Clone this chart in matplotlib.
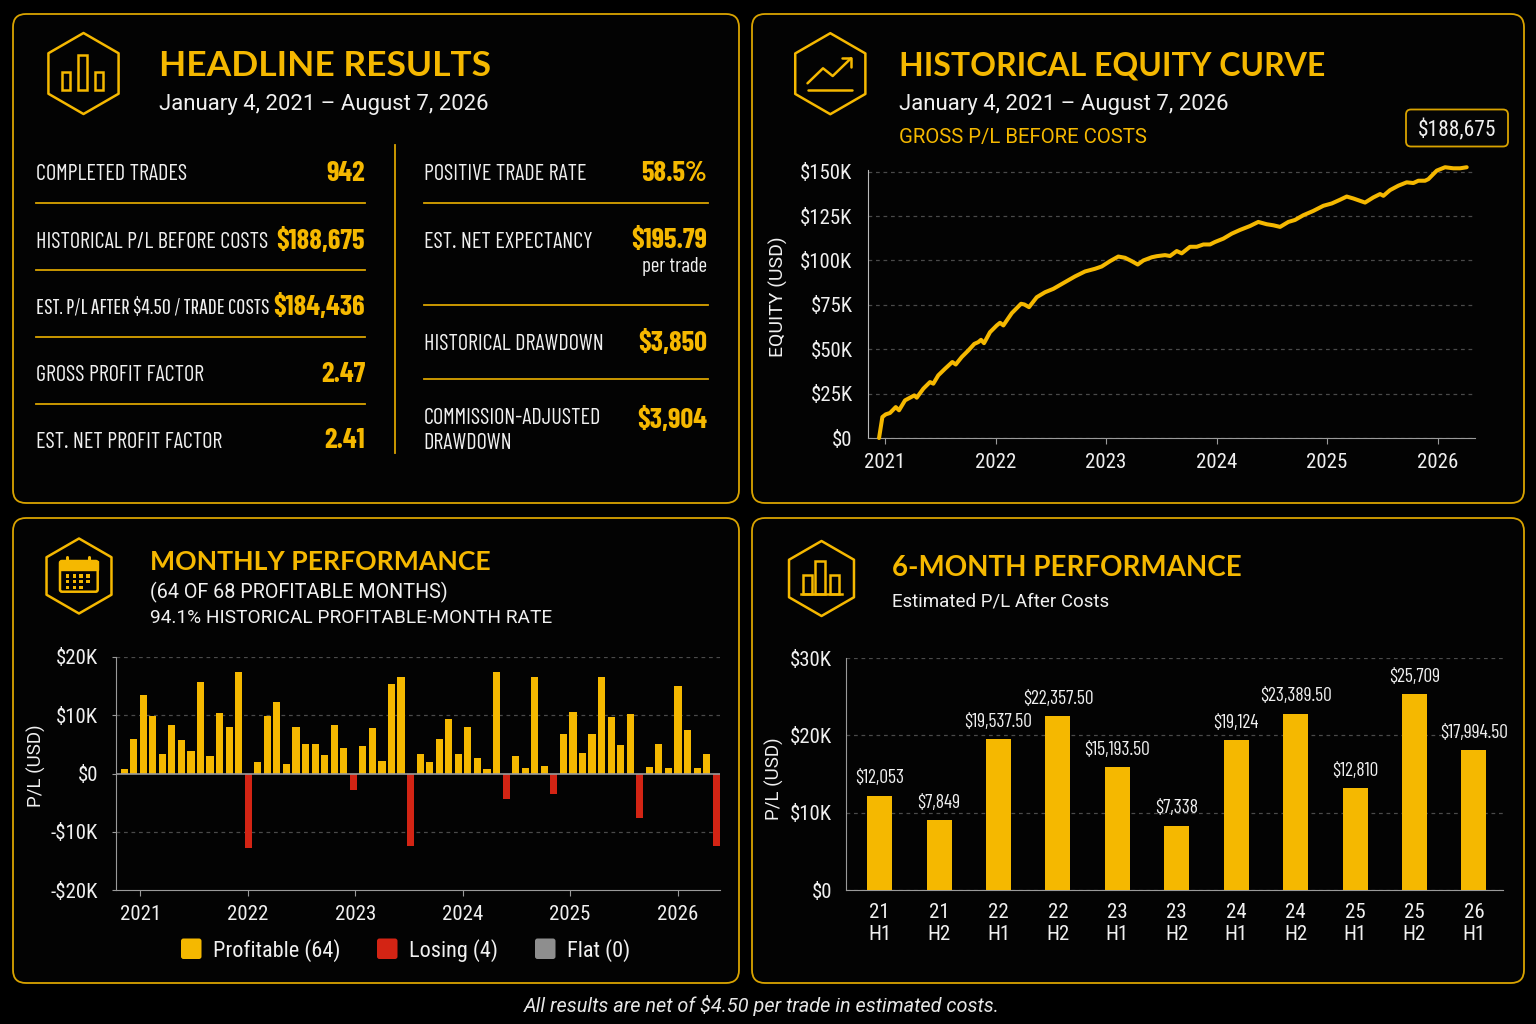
import matplotlib
matplotlib.use('Agg')
import matplotlib.pyplot as plt
from matplotlib.patches import FancyBboxPatch, Polygon, Rectangle
from matplotlib import font_manager as fm
import numpy as np

plt.rcParams['text.parse_math'] = False

# ---------------- DATA ----------------
date_range = "January 4, 2021 \u2013 August 7, 2026"

left_labels = ["COMPLETED TRADES", "HISTORICAL P/L BEFORE COSTS",
               "EST. P/L AFTER $4.50 / TRADE COSTS", "GROSS PROFIT FACTOR",
               "EST. NET PROFIT FACTOR"]
left_values = ["942", "$188,675", "$184,436", "2.47", "2.41"]

right_labels = ["POSITIVE TRADE RATE", "EST. NET EXPECTANCY",
                "HISTORICAL DRAWDOWN", "COMMISSION-ADJUSTED\nDRAWDOWN"]
right_values = ["58.5%", "$195.79", "$3,850", "$3,904"]
expectancy_note = "per trade"

equity_total_label = "$188,675"
equity_years = [2020.946, 2020.976, 2021.006, 2021.045, 2021.097, 2021.127, 2021.181,
                2021.226, 2021.265, 2021.287, 2021.347, 2021.407, 2021.437, 2021.482,
                2021.543, 2021.609, 2021.640, 2021.694, 2021.754, 2021.808, 2021.844,
                2021.869, 2021.896, 2021.950, 2022.011, 2022.041, 2022.071, 2022.147,
                2022.231, 2022.261, 2022.303, 2022.373, 2022.448, 2022.523, 2022.629,
                2022.719, 2022.810, 2022.900, 2022.961, 2023.036, 2023.111, 2023.172,
                2023.233, 2023.287, 2023.338, 2023.414, 2023.459, 2023.534, 2023.579,
                2023.640, 2023.685, 2023.760, 2023.821, 2023.881, 2023.941, 2023.986,
                2024.062, 2024.138, 2024.213, 2024.303, 2024.378, 2024.454, 2024.514,
                2024.575, 2024.650, 2024.710, 2024.786, 2024.876, 2024.967, 2025.043,
                2025.118, 2025.178, 2025.238, 2025.344, 2025.419, 2025.480, 2025.510,
                2025.570, 2025.645, 2025.721, 2025.781, 2025.826, 2025.887, 2025.917,
                2025.993, 2026.068, 2026.143, 2026.204, 2026.264]
equity_k = [0.0, 11.8, 13.3, 14.1, 17.4, 15.6, 21.2,
            22.7, 24.0, 22.7, 27.8, 31.5, 30.6, 35.3,
            39.0, 42.8, 41.4, 45.6, 49.3, 53.0, 54.0,
            55.3, 53.4, 59.6, 63.4, 64.9, 63.4, 70.3,
            75.6, 75.2, 73.7, 79.3, 82.1, 84.0, 87.8,
            91.0, 93.8, 95.3, 96.6, 99.6, 102.2, 101.5,
            99.6, 97.7, 100.0, 101.8, 102.4, 103.0, 102.5,
            105.3, 104.0, 107.7, 107.7, 109.0, 109.0, 110.4,
            112.3, 115.1, 117.2, 119.4, 121.7, 120.4, 119.8,
            118.9, 121.7, 122.8, 125.5, 127.9, 130.8, 132.1,
            134.2, 136.0, 134.9, 132.6, 135.5, 137.4, 136.4,
            139.6, 142.1, 144.0, 143.6, 144.9, 144.9, 145.8,
            150.6, 152.5, 151.9, 151.9, 152.5]
equity_ticks = [0, 25, 50, 75, 100, 125, 150]
year_labels = ["2021", "2022", "2023", "2024", "2025", "2026"]

monthly_pl_k = [0.7, 6.0, 13.4, 9.8, 3.3, 8.4, 5.8, 3.8, 15.7, 3.0, 10.4, 7.9, 17.5,
                -12.8, 2.0, 9.8, 12.3, 1.7, 8.0, 5.0, 5.1, 3.1, 8.4, 4.3, -2.8,
                4.7, 7.8, 2.1, 15.3, 16.6, -12.4, 3.4, 1.9, 5.9, 9.4, 3.4, 8.0,
                2.6, 0.7, 17.4, -4.4, 3.0, 1.0, 16.6, 1.3, -3.5, 6.7, 10.5, 3.6,
                6.7, 16.6, 9.7, 4.9, 10.2, -7.6, 1.1, 5.1, 0.9, 15.1, 7.4, 0.9,
                3.4, -12.4]
monthly_ticks = [-20, -10, 0, 10, 20]
legend_labels = ["Profitable (64)", "Losing (4)", "Flat (0)"]

half_labels = ["21\nH1", "21\nH2", "22\nH1", "22\nH2", "23\nH1", "23\nH2",
               "24\nH1", "24\nH2", "25\nH1", "25\nH2", "26\nH1"]
half_k = [12.2, 9.0, 19.5, 22.5, 15.9, 8.3, 19.4, 22.8, 13.2, 25.3, 18.1]
half_value_text = ["$12,053", "$7,849", "$19,537.50", "$22,357.50", "$15,193.50",
                   "$7,338", "$19,124", "$23,389.50", "$12,810", "$25,709",
                   "$17,994.50"]
half_ticks = [0, 10, 20, 30]

footer = "All results are net of $4.50 per trade in estimated costs."

# ---------------- STYLE ----------------
W, H = 1536, 1024
BG = '#000000'
YEL = '#F5B800'
BORDER = '#D9A300'
RED = '#D32414'
GRAYSW = '#8E8E8E'
WHITE = '#F0F0F0'
GRID = '#4A4A4A'
AXC = '#9A9A9A'

names = {f.name for f in fm.fontManager.ttflist}
def pick(*c):
    for n in c:
        if n in names:
            return n
    return 'DejaVu Sans'
TICKF = pick('Roboto Condensed', 'Archivo Narrow', 'DejaVu Sans')
NARROW = pick('Barlow Condensed', 'Fira Sans Extra Condensed', 'Roboto Condensed')
XNARROW = pick('Saira Extra Condensed', 'Pathway Gothic One', 'Encode Sans Compressed',
               'Barlow Condensed')
BOLDF = pick('Lato', 'Open Sans', 'Roboto')
REG = pick('Roboto', 'Lato', 'Open Sans')

fig = plt.figure(figsize=(W / 100, H / 100), dpi=100, facecolor=BG)
bg = fig.add_axes([0, 0, 1, 1], zorder=0)
bg.set_xlim(0, W)
bg.set_ylim(H, 0)
bg.axis('off')
bg.set_facecolor(BG)
renderer = fig.canvas.get_renderer()

def px_rect(l, t, r, b):
    return [l / W, 1 - b / H, (r - l) / W, (b - t) / H]

def T(x, y, s, **kw):
    kw.setdefault('color', WHITE)
    kw.setdefault('va', 'baseline')
    return bg.text(x, y, s, **kw)

def fit(txt, max_w):
    # shrink a text until it fits the given pixel width
    fs = txt.get_fontsize()
    while txt.get_window_extent(renderer).width > max_w and fs > 8:
        fs -= 0.25
        txt.set_fontsize(fs)

# panels
for (l, t, r, b) in [(13, 14, 739, 503), (752, 14, 1524, 503),
                     (13, 518, 739, 983), (752, 518, 1524, 983)]:
    bg.add_patch(FancyBboxPatch((l, t), r - l, b - t,
                                boxstyle="round,pad=0,rounding_size=13",
                                fc='#030303', ec=BORDER, lw=1.3))

def hexagon(cx, cy, R):
    pts = [(cx + R * np.cos(np.radians(90 + 60 * k)),
            cy - R * np.sin(np.radians(90 + 60 * k))) for k in range(6)]
    bg.add_patch(Polygon(pts, closed=True, fill=False, ec=YEL, lw=1.8,
                         joinstyle='round'))

ICON_LW = 1.8
hexagon(83.5, 73.5, 40.5)
for (x0, y0, hh) in [(61.5, 71.5, 18.5), (78, 54.5, 35.5), (94.5, 71.5, 18.5)]:
    bg.add_patch(Rectangle((x0, y0), 8.5, hh, fill=False, ec=YEL, lw=ICON_LW))
hexagon(830.3, 73.7, 40.5)
bg.plot([807.5, 823, 832.7, 851], [83.3, 68.3, 76, 58.3], color=YEL, lw=ICON_LW,
        solid_capstyle='round', solid_joinstyle='round')
bg.plot([842.4, 851, 851], [58.3, 58.3, 66.5], color=YEL, lw=ICON_LW,
        solid_capstyle='round', solid_joinstyle='round')
bg.plot([807.5, 852], [90, 90], color=YEL, lw=ICON_LW, solid_capstyle='round')
hexagon(79, 576, 37.5)
bg.add_patch(FancyBboxPatch((60, 561), 37.7, 30.7, boxstyle="round,pad=0,rounding_size=2",
                            fill=False, ec=YEL, lw=ICON_LW))
bg.add_patch(Rectangle((60, 561), 37.7, 8.5, fc=YEL, ec=YEL, lw=1))
for rx in (67.3, 89.0):
    bg.plot([rx, rx], [556.5, 564], color=YEL, lw=2.2, solid_capstyle='round')
for ri, ry in enumerate((574.3, 580.0, 585.7)):
    ncol = 4 if ri < 2 else 3
    for ci in range(ncol):
        bg.add_patch(Rectangle((65.8 + 6.8 * ci, ry), 3.6, 3.4, fc=YEL, ec='none'))
hexagon(821.5, 578.5, 37.5)
for (x0, y0, hh) in [(802.5, 575, 19), (815, 561, 33), (829.5, 575, 19)]:
    bg.add_patch(Rectangle((x0, y0), 9.5, hh, fill=False, ec=YEL, lw=ICON_LW))
bg.plot([801, 841.5], [594, 594], color=YEL, lw=ICON_LW)

# ---------------- PANEL 1: HEADLINE ----------------
T(159, 75.5, "HEADLINE RESULTS", color=YEL, fontsize=25.5, family=BOLDF, weight='bold')
T(159, 110, date_range, fontsize=15.9, family=REG)

LABEL_FS = 16
VAL_FS = 20.5
row_base = [180, 247.5, 314.5, 381, 447.5]
for i, (lab, val) in enumerate(zip(left_labels, left_values)):
    T(365, row_base[i] + 1, val, fontsize=VAL_FS, family=NARROW, weight='bold',
      color=YEL, ha='right')
    if len(lab) > 30:
        t = T(36, row_base[i], lab, fontsize=LABEL_FS + 0.5, family=XNARROW)
        fit(t, 236)
    else:
        T(36, row_base[i], lab, fontsize=LABEL_FS, family=NARROW)
for y in (202.5, 269.5, 337, 404):
    bg.plot([36, 365], [y, y], color=BORDER, lw=1.3)
bg.plot([394.5, 394.5], [145, 453], color=BORDER, lw=1.3)

r_base = [180, 247.5, 349.5, 424]
for i, (lab, val) in enumerate(zip(right_labels, right_values)):
    for j, line in enumerate(lab.split('\n')):
        T(423.5, r_base[i] + 25.3 * j, line, fontsize=LABEL_FS, family=NARROW)
    T(707, r_base[i] + (1 if i < 3 else 4), val, fontsize=VAL_FS, family=NARROW,
      weight='bold', color=YEL, ha='right')
T(707, 272.5, expectancy_note, fontsize=15, family=NARROW, ha='right')
for y in (202.5, 305, 379):
    bg.plot([423.5, 708], [y, y], color=BORDER, lw=1.3)

# ---------------- PANEL 2: EQUITY ----------------
T(899, 76, "HISTORICAL EQUITY CURVE", color=YEL, fontsize=23, family=BOLDF, weight='bold')
T(899, 110, date_range, fontsize=15.9, family=REG)
T(899, 142.5, "GROSS P/L BEFORE COSTS", color=YEL, fontsize=14.7, family=REG)
bg.add_patch(FancyBboxPatch((1406, 109.5), 102, 37, boxstyle="round,pad=0,rounding_size=5",
                            fc='#050505', ec=BORDER, lw=1.3))
T(1457, 128, equity_total_label, fontsize=15.5, family=TICKF, ha='center', va='center_baseline')

ax1 = fig.add_axes(px_rect(868, 169.9, 1475, 438), zorder=2)
ax1.set_facecolor('none')
ax1.plot(equity_years, np.array(equity_k) * 1000, color=YEL, lw=2.9,
         solid_joinstyle='round', solid_capstyle='round', clip_on=False, zorder=3)
ax1.set_xlim(2020.846, 2026.339)
ax1.set_ylim(0, 151000)
ax1.set_yticks([v * 1000 for v in equity_ticks])
ax1.set_yticklabels(["$0" if v == 0 else f"${v}K" for v in equity_ticks])
ax1.set_xticks(range(2021, 2027))
ax1.set_xticklabels(year_labels)
ax1.yaxis.grid(True, color=GRID, ls=(0, (3, 3)), lw=0.9)
ax1.set_axisbelow(True)
for s in ('top', 'right'):
    ax1.spines[s].set_visible(False)
ax1.spines['left'].set_color('#BBBBBB')
ax1.spines['bottom'].set_color(AXC)
ax1.tick_params(axis='y', length=0, pad=11, labelsize=15, labelcolor=WHITE)
ax1.tick_params(axis='x', length=4, color=AXC, pad=7, labelsize=15, labelcolor=WHITE)
for lab in ax1.get_xticklabels() + ax1.get_yticklabels():
    lab.set_family(TICKF)
ax1.set_ylabel("EQUITY (USD)", color=WHITE, fontsize=14, family=REG)
ax1.yaxis.set_label_coords(-0.132, 0.526)

# ---------------- PANEL 3: MONTHLY ----------------
T(150, 569.5, "MONTHLY PERFORMANCE", color=YEL, fontsize=19.2, family=BOLDF, weight='bold')
T(150, 598, "(64 OF 68 PROFITABLE MONTHS)", fontsize=14.2, family=REG)
T(150, 623, "94.1% HISTORICAL PROFITABLE-MONTH RATE", fontsize=13.8, family=REG)

ax2 = fig.add_axes(px_rect(116, 657, 720, 890), zorder=2)
ax2.set_facecolor('none')
mv = np.array(monthly_pl_k) * 1000
cols = [YEL if v > 0 else (RED if v < 0 else GRAYSW) for v in mv]
ax2.bar(np.arange(len(mv)), mv, width=0.75, color=cols, zorder=3)
ax2.axhline(0, color=AXC, lw=1.2, zorder=4)
ax2.set_xlim(-0.85, 62.4)
ax2.set_ylim(-20000, 20000)
ax2.set_yticks([v * 1000 for v in monthly_ticks])
ax2.set_yticklabels([("-$%dK" % -v) if v < 0 else ("$0" if v == 0 else "$%dK" % v)
                     for v in monthly_ticks])
ax2.set_xticks([1.7 + 11.25 * k for k in range(len(year_labels))])
ax2.set_xticklabels(year_labels)
for v in (-10000, 10000, 20000):
    ax2.axhline(v, color=GRID, ls=(0, (3, 3)), lw=0.9, zorder=1)
for s in ('top', 'right'):
    ax2.spines[s].set_visible(False)
ax2.spines['left'].set_color(AXC)
ax2.spines['bottom'].set_color(AXC)
ax2.tick_params(axis='y', length=3, color=AXC, pad=10, labelsize=15, labelcolor=WHITE)
ax2.tick_params(axis='x', length=4, color=AXC, pad=7, labelsize=15, labelcolor=WHITE)
for lab in ax2.get_xticklabels() + ax2.get_yticklabels():
    lab.set_family(TICKF)
ax2.set_ylabel("P/L (USD)", color=WHITE, fontsize=13.5, family=REG)
ax2.yaxis.set_label_coords(-0.116, 0.532)

for (x0, c, lab) in zip((181, 377, 535), (YEL, RED, GRAYSW), legend_labels):
    bg.add_patch(FancyBboxPatch((x0, 938.5), 20.5, 20.5, boxstyle="round,pad=0,rounding_size=2.5",
                                fc=c, ec='none'))
    T(x0 + 32, 957, lab, fontsize=16, family=TICKF)

# ---------------- PANEL 4: 6-MONTH ----------------
T(892, 576, "6-MONTH PERFORMANCE", color=YEL, fontsize=20, family=BOLDF, weight='bold')
T(892, 606, "Estimated P/L After Costs", fontsize=13.5, family=REG)

ax3 = fig.add_axes(px_rect(846, 658, 1503, 890), zorder=2)
ax3.set_facecolor('none')
hv = np.array(half_k) * 1000
ax3.bar(np.arange(len(hv)), hv, width=0.42, color=YEL, zorder=3)
for i, (v, s) in enumerate(zip(hv, half_value_text)):
    ax3.annotate(s, (i, v), xytext=(0, 6), textcoords='offset points', ha='center',
                 va='bottom', color=WHITE, fontsize=14, family=NARROW)
ax3.set_xlim(-0.567, 10.49)
ax3.set_ylim(0, 30000)
ax3.set_yticks([v * 1000 for v in half_ticks])
ax3.set_yticklabels(["$0" if v == 0 else f"${v}K" for v in half_ticks])
ax3.set_xticks(range(len(half_labels)))
ax3.set_xticklabels(half_labels, linespacing=1.25)
ax3.yaxis.grid(True, color=GRID, ls=(0, (3, 3)), lw=0.9)
ax3.set_axisbelow(True)
for s in ('top', 'right'):
    ax3.spines[s].set_visible(False)
ax3.spines['left'].set_color(AXC)
ax3.spines['bottom'].set_color(AXC)
ax3.tick_params(axis='y', length=0, pad=10, labelsize=15, labelcolor=WHITE)
ax3.tick_params(axis='x', length=0, pad=9, labelsize=15, labelcolor=WHITE)
for lab in ax3.get_xticklabels() + ax3.get_yticklabels():
    lab.set_family(TICKF)
ax3.set_ylabel("P/L (USD)", color=WHITE, fontsize=13.5, family=REG)
ax3.yaxis.set_label_coords(-0.094, 0.478)

# footer
T(762, 1011.5, footer, fontsize=14.3, family=REG, style='italic', color='#E6E6E6', ha='center')

fig.savefig('out.png', dpi=100, facecolor=BG)
